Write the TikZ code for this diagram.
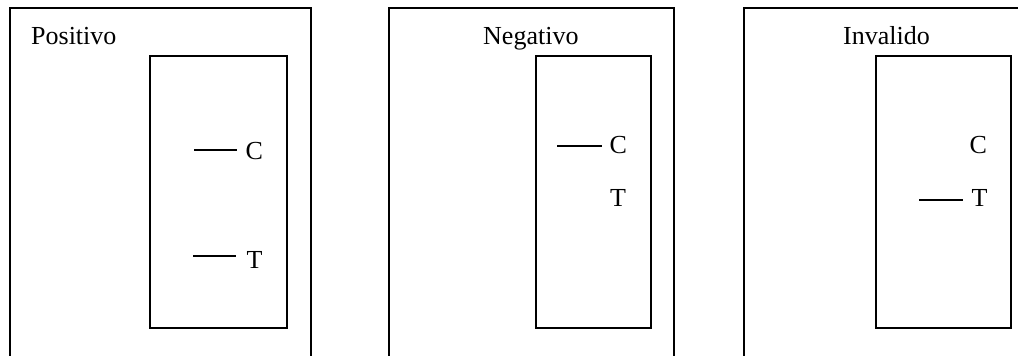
\documentclass[tikz,border=0pt]{standalone}
\usepackage{fontspec}
\setmainfont{Liberation Serif}
\begin{document}
\begin{tikzpicture}[x=1pt,y=-1pt,
  frame/.style={line width=1.4pt,line join=miter},
  strip/.style={draw,line width=1.4pt},
  band/.style={line width=1.4pt},
  lbl/.style={anchor=base west,inner sep=0pt,font=\fontsize{26}{30}\selectfont}]
\useasboundingbox (0,0) rectangle (1018,356);
% outer frames (open at bottom)
\draw[frame] (10,357) -- (10,8) -- (311,8) -- (311,357);
\draw[frame] (389,357) -- (389,8) -- (674,8) -- (674,357);
\draw[frame] (744,357) -- (744,8) -- (1019,8);
% titles
\node[lbl] (pos) at (31,44) {Positivo};
\node[lbl] (neg) at (483,44) {Negativo};
\node[lbl] (inv) at (843,44) {Invalido};
% strips
\draw[strip] (150,56) rectangle (287,328);
\draw[strip] (536,56) rectangle (651,328);
\draw[strip] (876,56) rectangle (1011,328);
% Positivo
\node[lbl] (c1) at (245.5,159.3) {C};
\node[lbl] (t1) at (246.5,268.3) {T};
\coordinate (c1a) at (194,150); \coordinate (c1b) at (237,150);
\coordinate (t1a) at (193,256); \coordinate (t1b) at (236,256);
\draw[band] (c1a) -- (c1b);
\draw[band] (t1a) -- (t1b);
% Negativo
\node[lbl] (c2) at (609.3,153.7) {C};
\node[lbl] (t2) at (610,206.7) {T};
\coordinate (c2a) at (557,146); \coordinate (c2b) at (602,146);
\draw[band] (c2a) -- (c2b);
% Invalido
\node[lbl] (c3) at (969.3,153.7) {C};
\node[lbl] (t3) at (971.5,206.7) {T};
\coordinate (t3a) at (919,200); \coordinate (t3b) at (963,200);
\draw[band] (t3a) -- (t3b);
\end{tikzpicture}
\end{document}
